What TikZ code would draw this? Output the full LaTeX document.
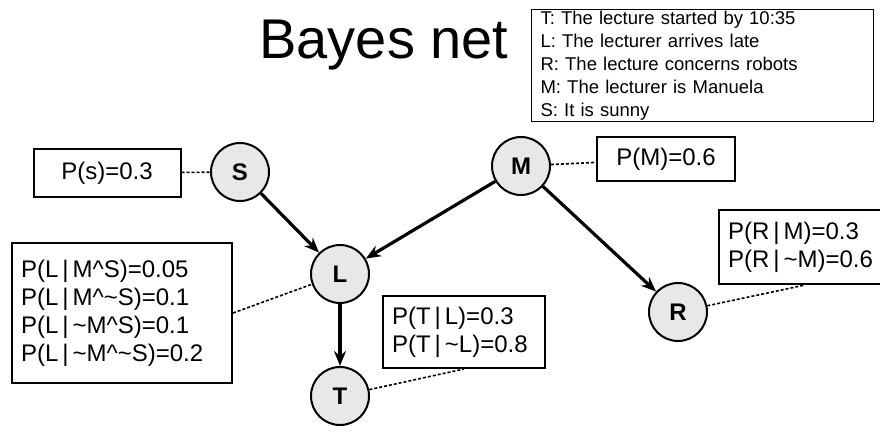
\documentclass[tikz,border=0pt]{standalone}
\usepackage{fontspec}
\setmainfont{Liberation Sans}
\usetikzlibrary{positioning,arrows.meta}
\tikzstyle{var} = [circle, minimum size=58pt, inner sep=0pt, draw=black, line width=2pt, fill=gray!18, font=\fontsize{24}{24}\selectfont\bfseries]
\tikzstyle{prob} = [rectangle, draw=black, line width=2pt, align=left, inner sep=9pt, font=\fontsize{24}{28}\selectfont]
\tikzstyle{legend} = [rectangle, draw=black, line width=1pt, align=left, inner xsep=9pt, inner ysep=2pt, font=\fontsize{18.5}{22.8}\selectfont]
\tikzstyle{arrow} = [line width=3.2pt,->,>={Stealth[length=15pt,width=12pt]}]
\tikzstyle{link} = [line width=1.6pt, dash pattern=on 3pt off 2pt]

\begin{document}
\begin{tikzpicture}[x=1pt, y=-1pt, node distance=122pt]
\useasboundingbox (0,0) rectangle (880,431);
\node (title) at (384,45) {\fontsize{56}{56}\selectfont Bayes net};
\node (key) [legend, anchor=north west, text width=324pt] at (531,9) {T: The lecture started by 10:35\\L: The lecturer arrives late\\R: The lecture concerns robots\\M: The lecturer is Manuela\\S: It is sunny};
\node (S) [var] at (240,172) {S};
\node (M) [var] at (521,166) {M};
\node (L) [var] at (340,274) {L};
\node (T) [var, below of=L] {T};
\node (R) [var] at (678,312) {R};
\node (pS) [prob, minimum width=147pt, minimum height=48pt, align=center] at (107,173) {P(s)=0.3};
\node (pM) [prob, minimum width=138pt, minimum height=44pt, align=center] at (666,159) {P(M)=0.6};
\node (pL) [prob, minimum width=220pt, minimum height=140pt, text width=202pt] at (122,313) {P(L\,|\,M\textasciicircum S)=0.05\\P(L\,|\,M\textasciicircum\textasciitilde S)=0.1\\P(L\,|\,\textasciitilde M\textasciicircum S)=0.1\\P(L\,|\,\textasciitilde M\textasciicircum\textasciitilde S)=0.2};
\node (pT) [prob, minimum width=162pt, minimum height=72pt, text width=144pt] at (464,332) {P(T\,|\,L)=0.3\\P(T\,|\,\textasciitilde L)=0.8};
\node (pR) [prob, minimum width=172pt, minimum height=74pt, text width=154pt, anchor=north west] at (718,209) {P(R\,|\,M)=0.3\\P(R\,|\,\textasciitilde M)=0.6};
\draw [arrow] (S) -- (L);
\draw [arrow] (M) -- (L);
\draw [arrow] (M) -- (R);
\draw [arrow] (L) -- (T);
\draw [link] (pS) -- (S);
\draw [link] (M) -- (pM);
\draw [link] (pL.east) -- (L);
\draw [link] (T) -- (pT.south);
\draw [link] (R) -- (pR.south);
\end{tikzpicture}
\end{document}
